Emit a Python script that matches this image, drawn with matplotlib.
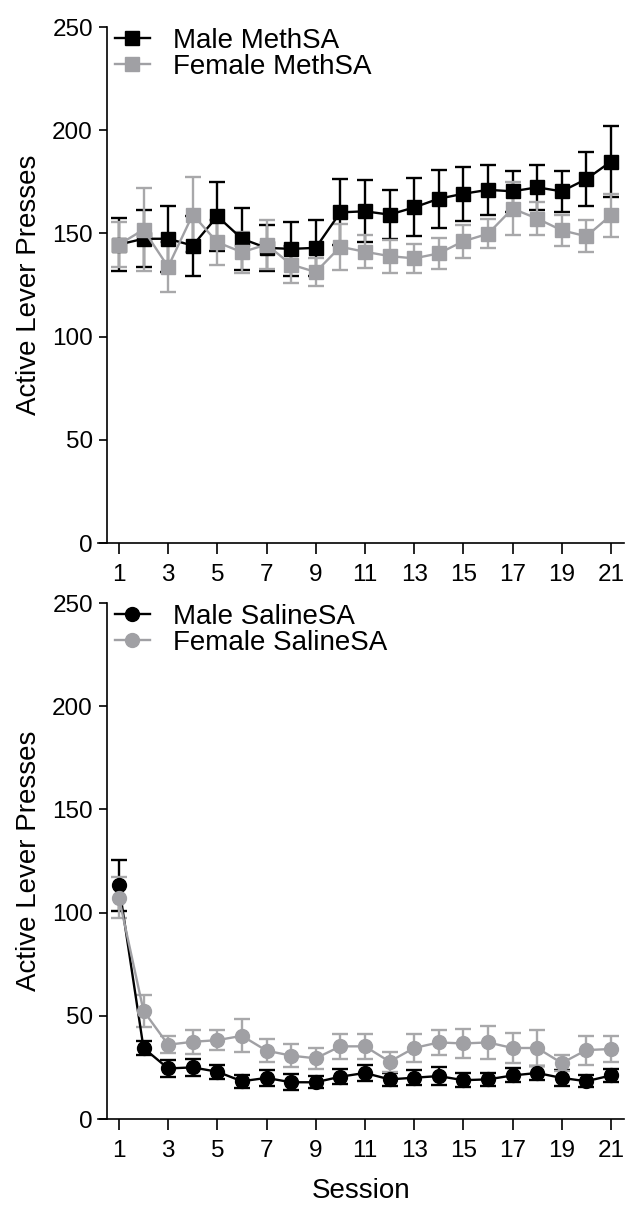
import matplotlib
matplotlib.use("Agg")
import matplotlib.pyplot as plt

plt.rcParams['font.family'] = ['Liberation Sans', 'DejaVu Sans']

sessions = list(range(1, 22))
xtick_vals = list(range(1, 22, 2))
ytick_vals = [0, 50, 100, 150, 200, 250]

# top panel: methamphetamine self-administration
male_meth = [144.6, 147.4, 147.4, 144.1, 158.3, 147.4, 143.0, 142.5, 143.0, 160.2, 160.7,
             159.1, 162.6, 166.8, 169.2, 171.1, 170.4, 172.3, 170.4, 176.3, 184.8]
male_meth_sem = [13, 13.7, 16, 14.5, 16.7, 15, 11, 13, 13.5, 16, 15,
                 12, 14, 14, 13, 12, 10, 11, 10, 13, 17]
female_meth = [144.6, 151.8, 133.8, 159.1, 145.7, 140.9, 144.6, 134.9, 131.3, 143.5, 141.1,
               139.0, 137.9, 140.3, 146.2, 149.8, 162.0, 157.2, 151.5, 148.6, 158.8]
female_meth_sem = [11, 20, 12, 18, 11, 10, 12, 9, 7, 11, 8,
                   8, 7, 7.5, 8, 7, 13, 8, 7.5, 7.7, 10.5]

# bottom panel: saline self-administration
male_saline = [113.3, 34.4, 24.5, 25.0, 22.9, 18.3, 19.9, 17.8, 17.8, 20.5, 22.3,
               19.2, 20.0, 20.8, 18.8, 19.2, 21.1, 22.3, 19.9, 18.3, 21.1]
male_saline_sem = [12.4, 3.4, 4.3, 4, 3.4, 3.2, 3.8, 3.9, 3, 3.7, 3.8,
                   3.3, 3.7, 4.4, 3.5, 3, 3.4, 3.4, 3.8, 3, 3]
female_saline = [107.2, 52.4, 36.0, 37.4, 38.2, 40.3, 33.1, 30.7, 29.4, 35.2, 35.2,
                 27.8, 34.4, 37.1, 36.6, 37.1, 34.4, 34.4, 27.1, 33.4, 33.9]
female_saline_sem = [10, 7.7, 4, 5.7, 5, 8, 5.7, 5.4, 5, 6, 6,
                     4.8, 7, 6, 7, 8, 7.5, 8.5, 4, 7, 6.5]

black = "#000000"
gray = "#a0a0a4"
gray_err = "#a8a8aa"

W, H = 626, 1214
fig = plt.figure(figsize=(W / 100, H / 100), dpi=100)
ax_top = fig.add_axes([98 / W, 1 - 543 / H, 526 / W, 516 / H])
ax_bot = fig.add_axes([98 / W, 1 - 1119 / H, 526 / W, 516 / H])


def panel(ax, male, male_sem, female, female_sem, marker, labels, msize):
    ax.errorbar(sessions, male, yerr=male_sem, fmt='none', ecolor=black,
                elinewidth=1.7, capsize=5.5, capthick=1.7, zorder=2)
    ax.errorbar(sessions, female, yerr=female_sem, fmt='none', ecolor=gray_err,
                elinewidth=1.7, capsize=5.5, capthick=1.7, zorder=2)
    l1, = ax.plot(sessions, male, color=black, lw=1.7, marker=marker,
                  markersize=msize, mfc=black, mec=black, label=labels[0], zorder=3)
    l2, = ax.plot(sessions, female, color=gray, lw=1.7, marker=marker,
                  markersize=msize, mfc=gray, mec=gray, label=labels[1], zorder=4)

    ax.set_xlim(0.15, 21.53)
    ax.set_ylim(0, 250)
    ax.set_xticks(xtick_vals)
    ax.set_yticks(ytick_vals)
    ax.spines['top'].set_visible(False)
    ax.spines['right'].set_visible(False)
    ax.spines['left'].set_position(('data', 0.51))
    ax.spines['left'].set_linewidth(1.2)
    ax.spines['bottom'].set_linewidth(1.2)
    ax.tick_params(axis='x', length=8, width=1.2, labelsize=17.5, pad=7)
    ax.tick_params(axis='y', length=6, width=1.2, labelsize=17.5, pad=4)
    ax.set_ylabel("Active Lever Presses", fontsize=20, labelpad=7)

    leg = ax.legend(handles=[l1, l2], loc='upper left', bbox_to_anchor=(0.032, 0.998),
                    frameon=False, fontsize=20, handlelength=1.25,
                    handletextpad=0.85, labelspacing=0.0, borderpad=0, borderaxespad=0)
    return leg


panel(ax_top, male_meth, male_meth_sem, female_meth, female_meth_sem, 's',
      ["Male MethSA", "Female MethSA"], 9.5)
panel(ax_bot, male_saline, male_saline_sem, female_saline, female_saline_sem, 'o',
      ["Male SalineSA", "Female SalineSA"], 10)

ax_bot.set_xlabel("Session", fontsize=20, labelpad=12)

fig.savefig("out.png", dpi=100)
